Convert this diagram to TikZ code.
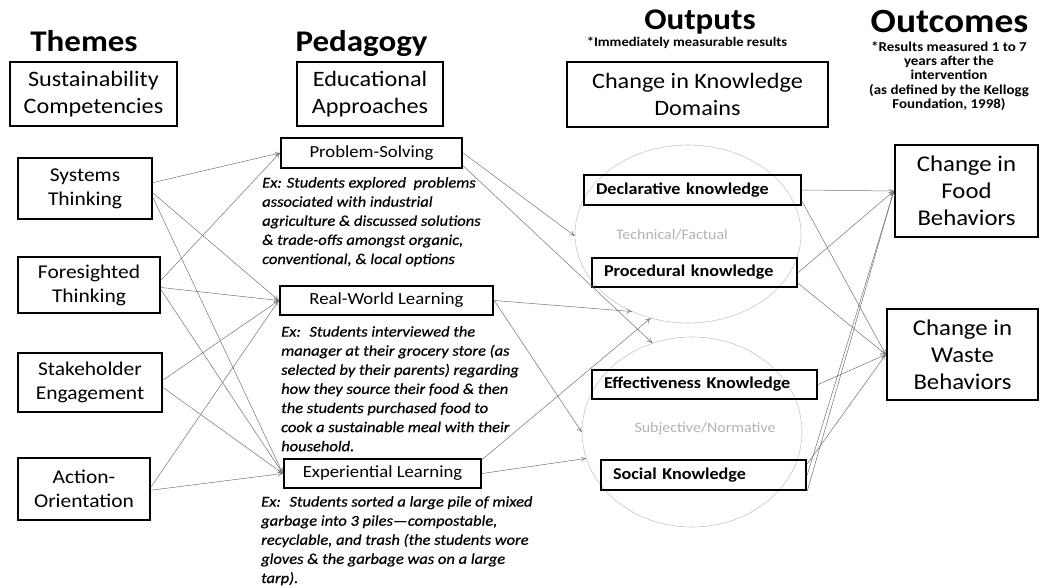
\documentclass[tikz,border=0pt]{standalone}
\usepackage{fontspec}
\setmainfont{Carlito}[FakeStretch=1.1]
\newfontfamily\exfont{Carlito}[Ligatures=TeX,FakeStretch=1.1,FakeBold=0.6]
\usetikzlibrary{arrows.meta,shapes.geometric}

\begin{document}
\begin{tikzpicture}[x=1pt,y=-1pt,
hdr/.style={font=\bfseries\fontsize{30}{34}\selectfont,anchor=base,inner sep=0pt},
note/.style={font=\bfseries\fontsize{13.6}{14.2}\selectfont,align=center,inner sep=0pt},
catbox/.style={draw,line width=2.4pt,align=center,inner sep=0pt,font=\fontsize{22}{26.5}\selectfont},
themebox/.style={draw,line width=2.4pt,align=center,inner sep=0pt,font=\fontsize{19.5}{24}\selectfont},
pedbox/.style={draw,line width=2.4pt,align=center,inner sep=0pt,font=\fontsize{17}{20}\selectfont},
knowbox/.style={draw,line width=2.4pt,align=left,inner xsep=12pt,inner ysep=0pt,font=\bfseries\fontsize{16.5}{20}\selectfont},
outbox/.style={draw,line width=2.4pt,align=center,inner sep=0pt,font=\fontsize{22.5}{27}\selectfont},
extext/.style={anchor=north west,align=left,inner sep=0pt,font=\exfont\itshape\fontsize{15}{19.1}\selectfont},
knowdom/.style={ellipse,draw=black!22,line width=0.6pt,inner sep=0pt},
domtext/.style={text=black!30,font=\fontsize{14.5}{16}\selectfont},
link/.style={-{To[length=5pt,width=5pt]},draw=black!55,line width=0.5pt}]

\useasboundingbox (0,0) rectangle (1044,588);

\draw (84,52) node[hdr] (themes) {Themes};
\draw (361.5,52) node[hdr] (pedagogy) {Pedagogy};
\draw (700,30) node[hdr] (outputs) {Outputs};
\draw (949.5,33) node[hdr,font=\bfseries\fontsize{34}{38}\selectfont] (outcomes) {Outcomes};
\draw (687,43) node[note,font=\bfseries\fontsize{13.2}{14}\selectfont] (outnote) {*Immediately measurable results};
\draw (949,76) node[note] (outcnote) {*Results measured 1 to 7\\years after the\\intervention\\(as defined by the Kellogg\\Foundation, 1998)};

\draw (93.5,94) node[catbox,minimum width=167pt,minimum height=64pt] (comp) {Sustainability\\Competencies};
\draw (370,94) node[catbox,minimum width=146pt,minimum height=64pt] (appr) {Educational\\Approaches};
\draw (697.5,94.5) node[catbox,minimum width=261pt,minimum height=65pt] (dom) {Change in Knowledge\\Domains};

\draw (688,234) node[knowdom,minimum width=226pt,minimum height=178pt] (techdom) {};
\draw (692,432) node[knowdom,minimum width=220pt,minimum height=190pt] (subjdom) {};
\draw (672,235) node[domtext] (techlbl) {Technical/Factual};
\draw (705,429) node[domtext] (subjlbl) {Subjective/Normative};

\draw (85,188.5) node[themebox,minimum width=134pt,minimum height=61pt] (sys) {Systems\\Thinking};
\draw (89,285) node[themebox,minimum width=142pt,minimum height=56pt] (fore) {Foresighted\\Thinking};
\draw (90,382.5) node[themebox,minimum width=144pt,minimum height=59pt] (stake) {Stakeholder\\Engagement};
\draw (84,489) node[themebox,minimum width=132pt,minimum height=62pt] (act) {Action-\\Orientation};

\draw (371.5,153) node[pedbox,minimum width=181pt,minimum height=30pt] (ps) {Problem-Solving};
\draw (386.5,300.5) node[pedbox,minimum width=213pt,minimum height=29pt] (rw) {Real-World Learning};
\draw (382.5,473.5) node[pedbox,minimum width=197pt,minimum height=29pt] (exp) {Experiential Learning};

\draw (262,177) node[extext] (psex) {Ex: Students explored~ problems\\associated with industrial\\agriculture \& discussed solutions\\\& trade-offs amongst organic,\\conventional, \& local options};
\draw (281,326) node[extext] (rwex) {Ex:~ Students interviewed the\\manager at their grocery store (as\\selected by their parents) regarding\\how they source their food \& then\\the students purchased food to\\cook a sustainable meal with their\\household.};
\draw (261,496) node[extext] (expex) {Ex:~ Students sorted a large pile of mixed\\garbage into 3 piles---compostable,\\recyclable, and trash (the students wore\\gloves \& the garbage was on a large\\tarp).};

\draw (692.5,190) node[knowbox,minimum height=30pt,text width=193pt] (decl) {Declarative knowledge};
\draw (694.5,272.5) node[knowbox,minimum height=29pt,text width=181pt] (proc) {Procedural knowledge};
\draw (704.5,384.5) node[knowbox,minimum height=29pt,text width=201pt] (eff) {Effectiveness Knowledge};
\draw (703.5,475) node[knowbox,minimum height=30pt,text width=181pt] (soc) {Social Knowledge};

\draw (966.5,191) node[outbox,minimum width=143pt,minimum height=92pt] (food) {Change in\\Food\\Behaviors};
\draw (962.5,354.5) node[outbox,minimum width=151pt,minimum height=91pt] (waste) {Change in\\Waste\\Behaviors};

\draw[link] (sys.5) -- (ps.west);
\draw[link] (sys.-4) -- (rw.west);
\draw[link] (sys.-8) -- (exp.west);
\draw[link] (fore.4) -- (ps.west);
\draw[link] (fore.-2) -- (rw.west);
\draw[link] (fore.-4) -- (exp.west);
\draw[link] (stake.2) -- (rw.west);
\draw[link] (stake.-4) -- (exp.west);
\draw[link] (act.2) -- (rw.west);
\draw[link] (act.-1) -- (exp.west);

\draw[link] (ps.east) -- (techdom.181);
\draw[link] (ps.-8) -- (subjdom.114);
\draw[link] (rw.east) -- (techdom.234);
\draw[link] (rw.east) -- (subjdom.180);
\draw[link] (exp.8) -- (techdom.246);
\draw[link] (exp.east) -- (subjdom.194);

\draw[link] (decl.east) -- (food.west);
\draw[link] (decl.-6) -- (waste.west);
\draw[link] (proc.east) -- (food.west);
\draw[link] (proc.-6) -- (waste.west);
\draw[link] (eff.east) -- (waste.west);
\draw[link] (soc.east) -- (food.west);
\draw[link] (soc.south east) -- (food.west);
\draw[link] (soc.6) -- (waste.west);

\end{tikzpicture}
\end{document}
